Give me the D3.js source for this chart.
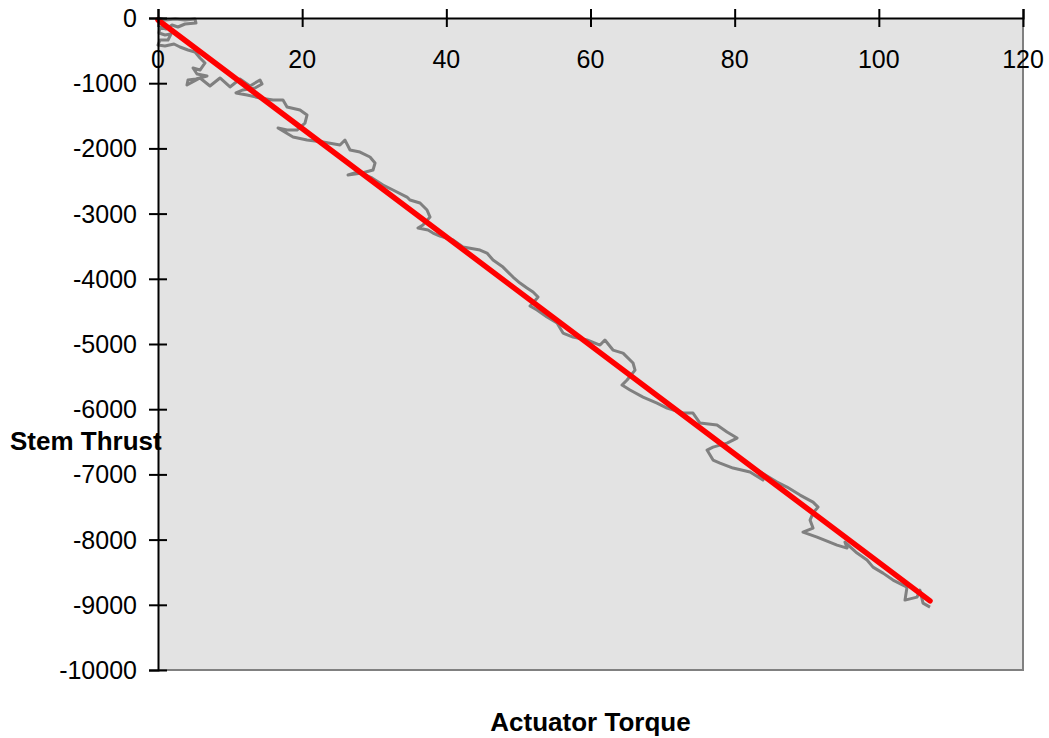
<!DOCTYPE html>
<html>
<head>
<meta charset="utf-8">
<script src="https://cdn.jsdelivr.net/npm/d3@7"></script>
<style>
  body { margin: 0; background: #fff; }
  .chart text { font-family: "Liberation Sans", Arial, sans-serif; fill: #000; }
</style>
</head>
<body>
<div class="chart"></div>
<script>
// torque vs thrust trace
var torque = [0, 1.0, 2.4, 3.75, 5.13, 5.27, 3.75, 2.77, 1.94, 1.11, 0.28, 0.14, 0.97, 1.80, 1.39, 0.28, 0, 0.97, 2.22, 3.05,
  4.16, 5.13, 5.83, 6.52, 5.83, 4.86, 5.41, 6.80, 5.27, 4.16, 4.02, 5.83, 7.21, 8.60, 9.99, 11.38, 12.76, 14.15, 14.43, 13.46, 11.79, 10.82,
  12.35, 14.15, 15.95, 17.34, 17.90, 19.70, 20.67, 20.39, 19.28, 17.90, 16.65, 18.73, 20.67, 22.89, 25.25, 25.94, 26.64, 28.02, 29.41, 30.11, 29.83,
  28.30, 26.36, 27.75, 29.69, 31.22, 32.60, 34.54, 34.96, 36.35, 37.32, 37.74, 36.76, 36.07, 37.46, 38.15, 39.12, 40.93, 42.31, 44.67, 45.64,
  46.48, 47.86, 49.25, 50.22, 51.19, 52.03, 52.72, 52.03, 51.61, 52.58, 53.97, 55.36, 56.19, 57.57, 59.52, 61.32, 62.0, 63.12, 64.51, 65.90, 66.18,
  65.07, 64.37, 65.48, 67.29, 69.23, 70.62, 72.84, 74.22, 75.19, 77.55, 78.94, 80.33, 78.94, 77.00, 76.17, 77.00, 77.97, 79.77, 82.13, 83.93, 83.1,
  85.88, 87.26, 89.07, 90.87, 91.57, 90.87, 90.46, 90.87, 89.48, 91.43, 94.20, 95.59, 95.3, 96.98, 98.36, 99.19, 100.58, 101.97, 103.91, 103.63, 105.30, 105.7,
  106.13, 107.10];
var thrust = [0, -30, -15, -30, -15, -77, -92, -138, -107, -169, -138, -230, -261, -245, -337, -337, -414, -430, -399, -445,
  -491, -522, -614, -690, -798, -767, -859, -890, -936, -951, -1028, -920, -1043, -920, -1058, -936, -1043, -951, -1012, -1074, -1104, -1150,
  -1181, -1227, -1258, -1258, -1365, -1411, -1488, -1611, -1718, -1718, -1687, -1825, -1871, -1902, -1948, -1872, -2025, -2056, -2132, -2224, -2332,
  -2378, -2408, -2362, -2454, -2562, -2638, -2746, -2792, -2838, -2945, -3053, -3175, -3221, -3252, -3298, -3344, -3405, -3513, -3559, -3605,
  -3712, -3820, -3973, -4065, -4142, -4203, -4280, -4372, -4418, -4479, -4587, -4679, -4832, -4893, -4939, -5016, -4939, -5093, -5139, -5292, -5400,
  -5553, -5630, -5706, -5814, -5906, -5983, -6059, -6059, -6213, -6243, -6351, -6443, -6520, -6581, -6627, -6780, -6826, -6903, -6964, -7087, -6934,
  -7118, -7194, -7317, -7425, -7501, -7593, -7701, -7823, -7885, -7961, -8084, -8130, -8038, -8207, -8314, -8422, -8514, -8621, -8728, -8928, -8882, -8774,
  -8974, -9035];

// linear fit (red)
var fitTorque = [0, 107.1];
var fitThrust = [-30, -8940];

var xTicks = [0, 20, 40, 60, 80, 100, 120];
var yTicks = [0, -1000, -2000, -3000, -4000, -5000, -6000, -7000, -8000, -9000, -10000];

var svg_width = 1049,
    svg_height = 738,
    svg = d3.select('.chart').append('svg').attr('width', svg_width).attr('height', svg_height),
    plot = {left: 158, right: 1023, top: 18, bottom: 670};

var x = d3.scaleLinear().domain([0, 120]).range([plot.left, plot.right]);
var y = d3.scaleLinear().domain([-10000, 0]).range([plot.bottom, plot.top]);

// plot area
svg.append('rect')
  .attr('x', plot.left).attr('y', plot.top)
  .attr('width', plot.right - plot.left).attr('height', plot.bottom - plot.top)
  .attr('fill', '#e3e3e3');
svg.append('path')
  .attr('d', 'M' + plot.right + ',' + plot.top + 'V' + plot.bottom + 'H' + plot.left)
  .attr('fill', 'none').attr('stroke', '#808080').attr('stroke-width', 2);

var pts = torque.map(function(t, i) { return [t, thrust[i]]; });
var line = d3.line().x(function(d) { return x(d[0]); }).y(function(d) { return y(d[1]); });

svg.append('path').datum(pts)
  .attr('d', line)
  .attr('fill', 'none').attr('stroke', '#808080').attr('stroke-width', 3)
  .attr('stroke-linejoin', 'round');

svg.append('path').datum(fitTorque.map(function(t, i) { return [t, fitThrust[i]]; }))
  .attr('d', line)
  .attr('fill', 'none').attr('stroke', '#ff0000').attr('stroke-width', 5.5)
  .attr('stroke-linecap', 'round');

// axes, ticks cross the line
var xAxis = svg.append('g').attr('transform', 'translate(0,' + plot.top + ')')
  .call(d3.axisTop(x).tickValues(xTicks).tickSize(9).tickFormat(''));
xAxis.selectAll('.tick line').attr('y2', 9).attr('y1', -9);
xAxis.selectAll('line, path').attr('stroke', '#000').attr('stroke-width', 2);

var yAxis = svg.append('g').attr('transform', 'translate(' + plot.left + ',0)')
  .call(d3.axisLeft(y).tickValues(yTicks).tickSize(9).tickFormat(''));
yAxis.selectAll('.tick line').attr('x1', 9).attr('x2', -9);
yAxis.selectAll('line, path').attr('stroke', '#000').attr('stroke-width', 2);

svg.selectAll('.xlab').data(xTicks).enter().append('text')
  .attr('class', 'xlab')
  .attr('x', function(d) { return x(d); })
  .attr('y', 68)
  .attr('text-anchor', 'middle')
  .style('font-size', '25px')
  .text(function(d) { return d; });

svg.selectAll('.ylab').data(yTicks).enter().append('text')
  .attr('class', 'ylab')
  .attr('x', 137)
  .attr('y', function(d) { return y(d) + 9; })
  .attr('text-anchor', 'end')
  .style('font-size', '25px')
  .text(function(d) { return d; });

svg.append('text')
  .attr('x', 10).attr('y', 450)
  .style('font-size', '26px').style('font-weight', 'bold')
  .text('Stem Thrust');

svg.append('text')
  .attr('x', (plot.left + plot.right) / 2).attr('y', 731)
  .attr('text-anchor', 'middle')
  .style('font-size', '26px').style('font-weight', 'bold')
  .text('Actuator Torque');
</script>
</body>
</html>
